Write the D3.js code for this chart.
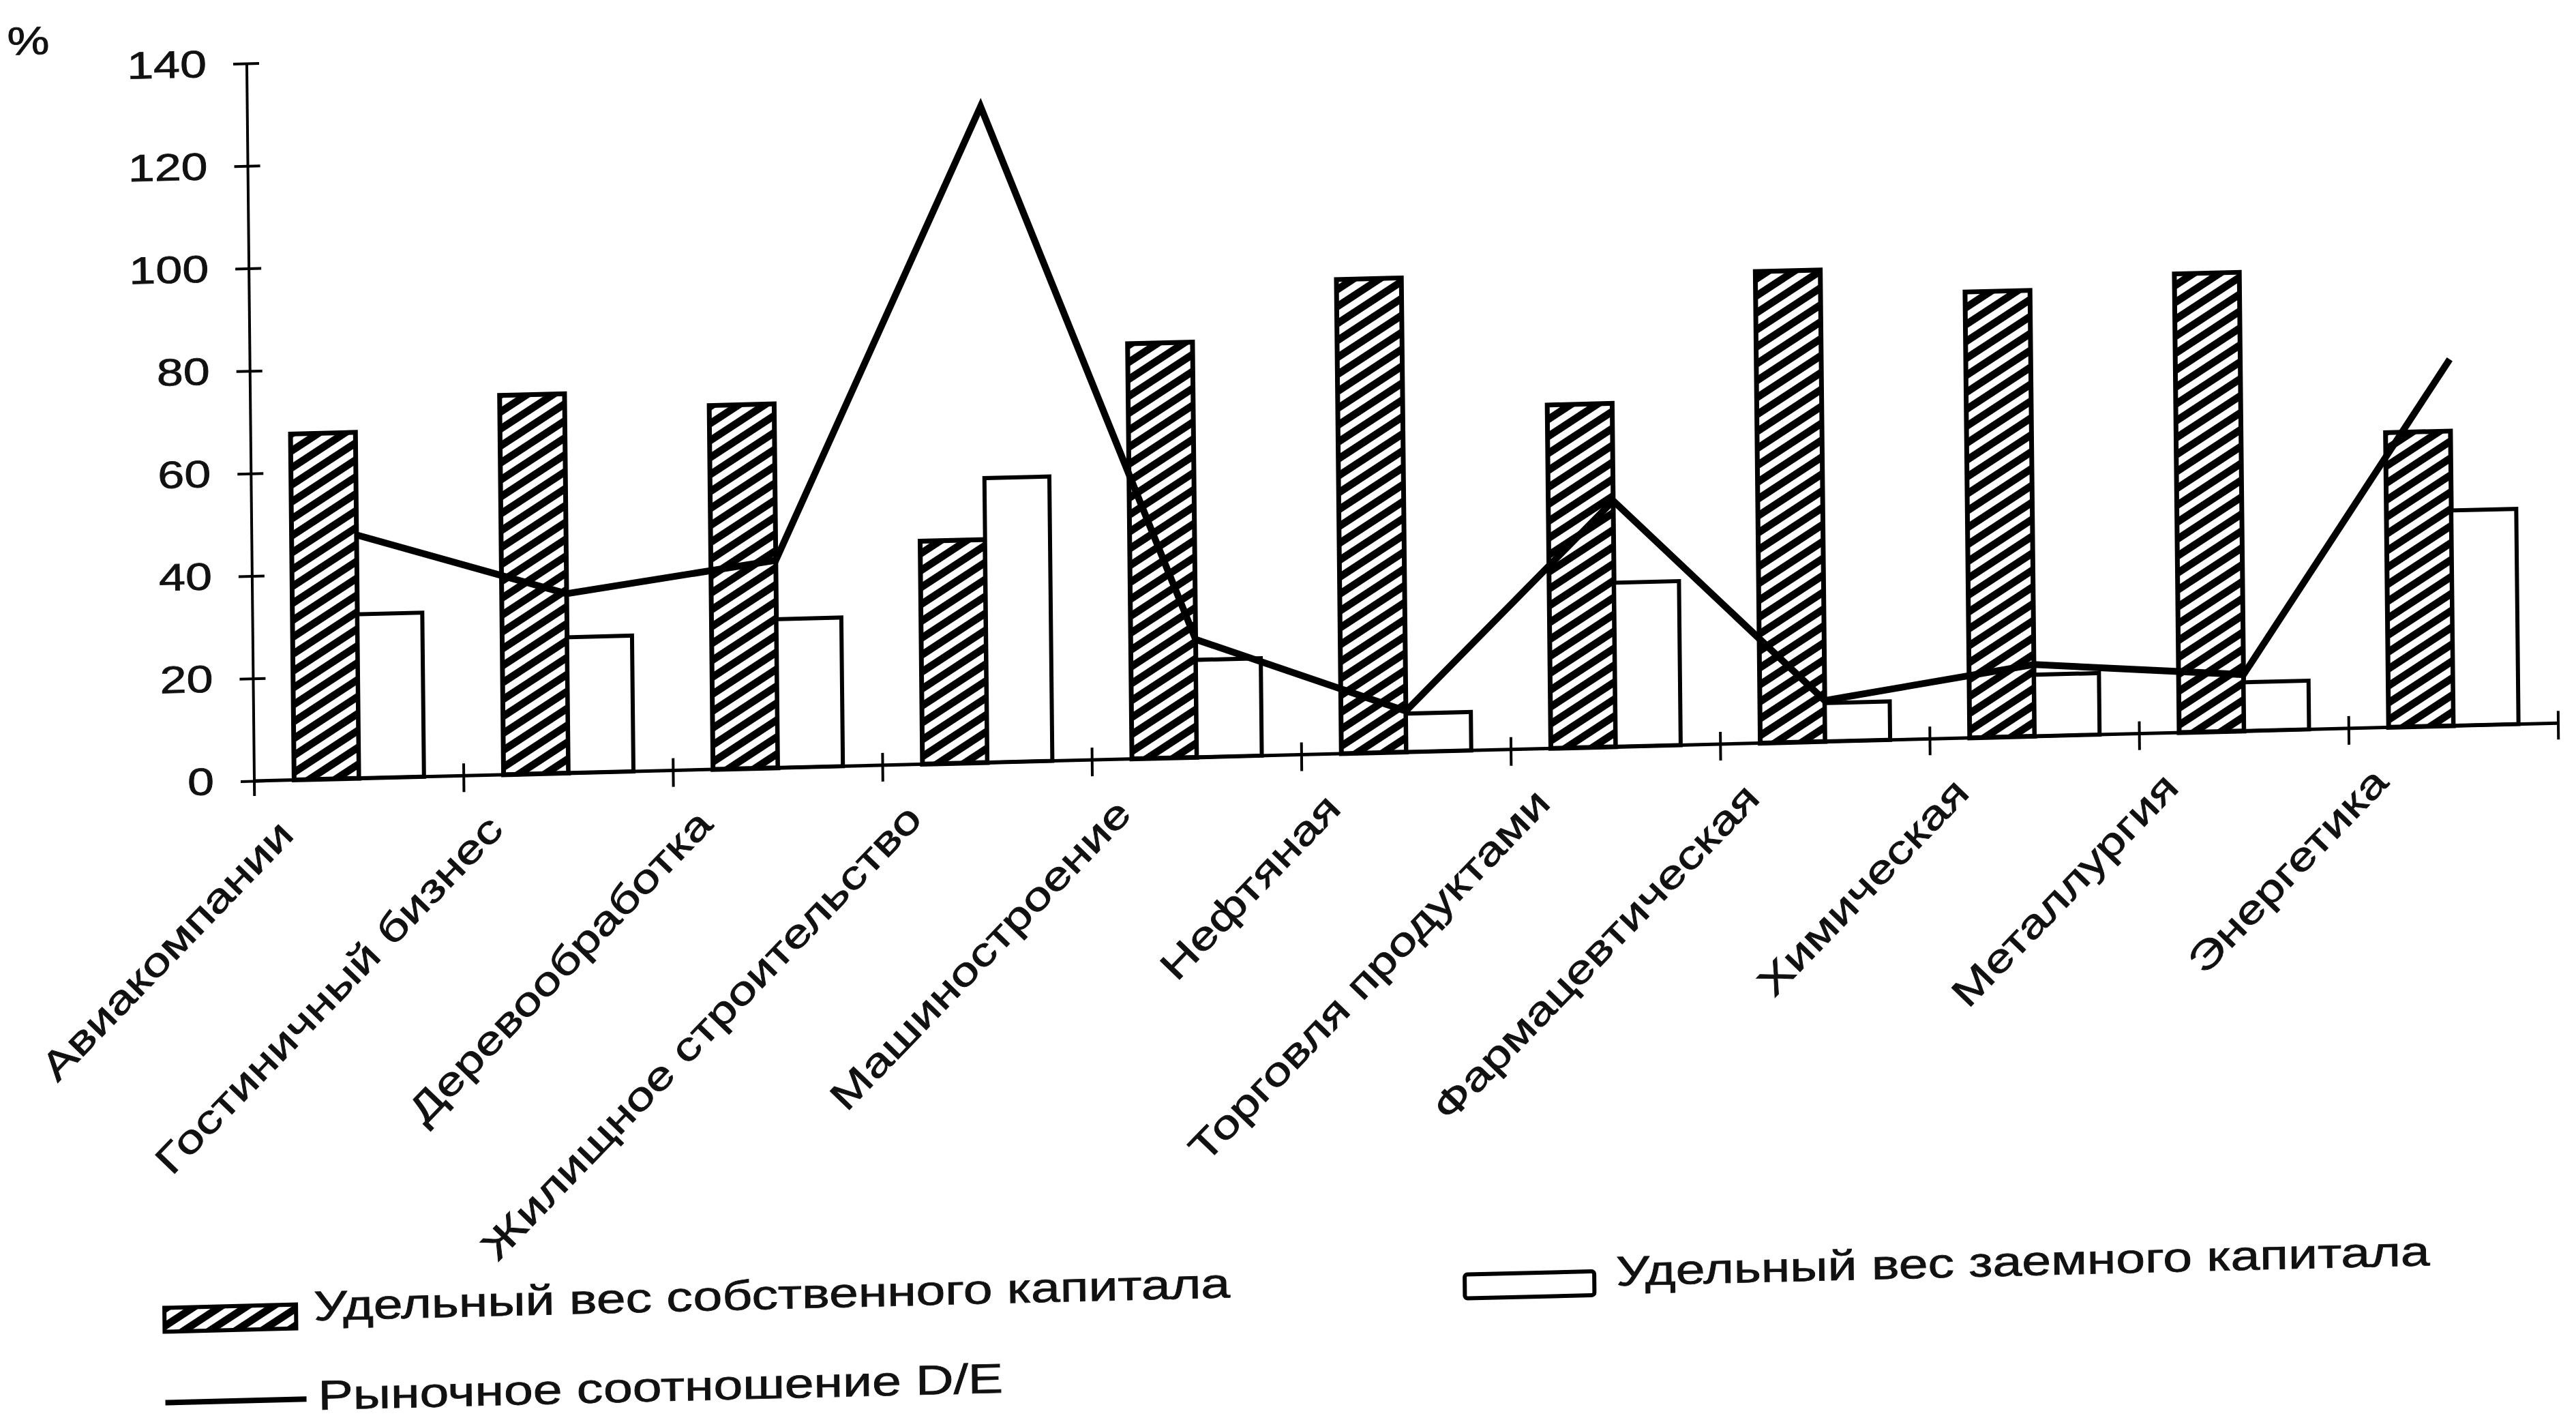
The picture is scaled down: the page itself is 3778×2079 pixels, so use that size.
<!DOCTYPE html>
<html>
<head>
<meta charset="utf-8">
<script src="https://cdn.jsdelivr.net/npm/d3@7"></script>
<style>
  body { margin: 0; background: #fff; }
  text { font-family: "Liberation Sans", Arial, sans-serif; fill: #111; stroke: #111; stroke-width: 0.8; }
</style>
</head>
<body>
<div id="chart"></div>
<script>
// data
var categories = ["Авиакомпании", "Гостиничный бизнес", "Деревообработка", "Жилищное строительство",
    "Машиностроение", "Нефтяная", "Торговля продуктами", "Фармацевтическая",
    "Химическая", "Металлургия", "Энергетика"];
var ownShare  = [67.5, 74, 71, 43.5, 81, 92.5, 67, 92, 87, 89.5, 57.5];
var debtShare = [32, 26.5, 29, 55.5, 19, 7.5, 32, 7.5, 12, 9.5, 42];
var deRatio   = [47.5, 35, 40.5, 128, 23, 8, 48, 8, 14, 11, 71.5];
var yTicks = [0, 20, 40, 60, 80, 100, 120, 140];
var seriesNames = ["Удельный вес собственного капитала", "Удельный вес заемного капитала", "Рыночное соотношение D/E"];

const width = 3778, height = 2079;
const svg = d3.select("#chart").append("svg")
    .attr("width", width)
    .attr("height", height);

// diagonal hatch for own capital
svg.append("defs").append("pattern")
    .attr("id", "hatch")
    .attr("patternUnits", "userSpaceOnUse")
    .attr("width", 21)
    .attr("height", 21)
    .attr("patternTransform", "rotate(-32)")
    .append("rect")
    .attr("width", 21)
    .attr("height", 11)
    .attr("fill", "#000");

// the scanned page is skewed a little: baseline climbs to the right
const page = svg.append("g")
    .attr("transform", "matrix(1,-0.0251,0.0105,1,-12.01,9.36)");

// stretch text horizontally like the scan does
function stretch(sel, k) {
    sel.each(function() {
        var len = this.getComputedTextLength();
        d3.select(this).attr("textLength", len * k).attr("lengthAdjust", "spacingAndGlyphs");
    });
}

const x = d3.scaleBand().domain(categories).range([373, 3752]);
const bw = x.bandwidth();
const inner = d3.scaleBand().domain(["own", "debt"]).range([bw * 0.19, bw * 0.81]);
const y = d3.scaleLinear().domain([0, 140]).range([1145, 93]);

// y axis
const yAxis = page.append("g")
    .attr("transform", "translate(373,0)")
    .call(d3.axisLeft(y).tickValues(yTicks).tickSizeOuter(0).tickSize(20).tickPadding(39));
yAxis.select(".domain").remove();
yAxis.selectAll(".tick line")
    .attr("x1", -20).attr("x2", 18)
    .attr("stroke", "#000").attr("stroke-width", 4);
yAxis.selectAll(".tick text")
    .attr("font-size", 56)
    .attr("font-family", null)
    .attr("fill", "#111")
    .call(stretch, 1.25);
page.append("line")
    .attr("x1", 373).attr("x2", 373)
    .attr("y1", y(140)).attr("y2", y(0) + 22)
    .attr("stroke", "#000").attr("stroke-width", 4);

page.append("text")
    .attr("x", 22).attr("y", 72)
    .attr("font-size", 58)
    .text("%")
    .call(stretch, 1.2);

// bars
const groups = page.selectAll("g.cat")
    .data(categories)
    .enter().append("g")
    .attr("class", "cat")
    .attr("transform", function(d) { return "translate(" + x(d) + ",0)"; });

groups.append("rect")
    .attr("x", inner("own"))
    .attr("width", inner.bandwidth())
    .attr("y", function(d, i) { return y(ownShare[i]); })
    .attr("height", function(d, i) { return y(0) - y(ownShare[i]); })
    .attr("fill", "url(#hatch)")
    .attr("stroke", "#000")
    .attr("stroke-width", 7);

groups.append("rect")
    .attr("x", inner("debt"))
    .attr("width", inner.bandwidth())
    .attr("y", function(d, i) { return y(debtShare[i]); })
    .attr("height", function(d, i) { return y(0) - y(debtShare[i]); })
    .attr("fill", "#fff")
    .attr("stroke", "#000")
    .attr("stroke-width", 6);

// x axis
page.append("line")
    .attr("x1", x.range()[0]).attr("x2", x.range()[1])
    .attr("y1", y(0)).attr("y2", y(0))
    .attr("stroke", "#000").attr("stroke-width", 5);

var bounds = categories.map(function(c) { return x(c); }).concat([x.range()[1]]);
page.selectAll("line.xtick")
    .data(bounds.slice(1))
    .enter().append("line")
    .attr("class", "xtick")
    .attr("x1", function(d) { return d; }).attr("x2", function(d) { return d; })
    .attr("y1", y(0) - 18).attr("y2", y(0) + 24)
    .attr("stroke", "#000").attr("stroke-width", 4);

page.selectAll("text.cat-label")
    .data(categories)
    .enter().append("text")
    .attr("class", "cat-label")
    .attr("text-anchor", "end")
    .attr("font-size", 58)
    .attr("transform", function(d) {
        return "translate(" + (x(d) + bw / 2 - 94) + "," + (y(0) + 83) + ") rotate(-45)";
    })
    .text(function(d) { return d; })
    .call(stretch, 1.27);

// D/E line
const line = d3.line()
    .x(function(d, i) { return x(categories[i]) + bw / 2; })
    .y(function(d) { return y(d); });

page.append("path")
    .datum(deRatio)
    .attr("d", line)
    .attr("fill", "none")
    .attr("stroke", "#000")
    .attr("stroke-width", 10)
    .attr("stroke-linejoin", "miter");

// legend
const legend = page.append("g").attr("class", "legend");

legend.append("rect")
    .attr("x", 233).attr("y", 1914).attr("width", 193).attr("height", 35)
    .attr("fill", "url(#hatch)").attr("stroke", "#000").attr("stroke-width", 6);
legend.append("text")
    .attr("x", 452).attr("y", 1938)
    .attr("font-size", 61)
    .text(seriesNames[0])
    .call(stretch, 1.26);

legend.append("rect")
    .attr("x", 2140).attr("y", 1913).attr("width", 190).attr("height", 35)
    .attr("rx", 4)
    .attr("fill", "#fff").attr("stroke", "#000").attr("stroke-width", 6);
legend.append("text")
    .attr("x", 2362).attr("y", 1935)
    .attr("font-size", 61)
    .text(seriesNames[1])
    .call(stretch, 1.26);

legend.append("line")
    .attr("x1", 233).attr("x2", 440).attr("y1", 2053).attr("y2", 2053)
    .attr("stroke", "#000").attr("stroke-width", 8);
legend.append("text")
    .attr("x", 457).attr("y", 2069)
    .attr("font-size", 61)
    .text(seriesNames[2])
    .call(stretch, 1.26);
</script>
</body>
</html>
